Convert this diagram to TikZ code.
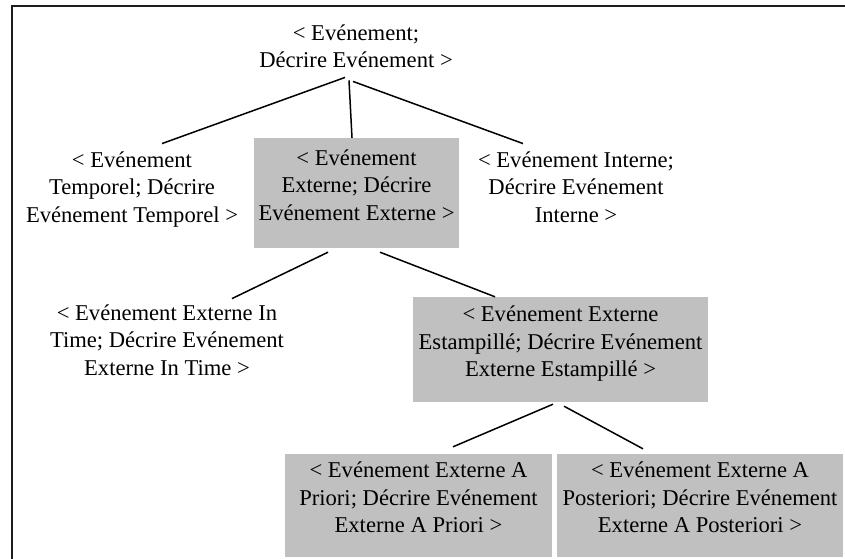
\documentclass[tikz,border=0pt]{standalone}
\usepackage{fontspec}
\setmainfont{Liberation Serif}
\usepackage{tikz}
\usetikzlibrary{positioning,calc}
\definecolor{boxgray}{HTML}{C0C0C0}
\definecolor{framegray}{HTML}{1C1C1C}

\begin{document}
\begin{tikzpicture}[
        x=1pt, y=-1pt,
        txt/.style   = {align=center, inner sep=0pt, font=\fontsize{22.6}{27.5}\selectfont,
                        execute at begin node=\strut, execute at end node=\strut},
        gbox/.style  = {txt, fill=boxgray, execute at end node={\strut\rule[-16pt]{0pt}{16pt}}},
        link/.style  = {line width=1.5pt},
        frame/.style = {line width=1.8pt, draw=framegray}
    ]
        \useasboundingbox (0,0) rectangle (845,558);
        \draw[frame] (12,560) -- (12,6) -- (847,6);

        \node[txt]  (evt)  at (356,50.25)   {< Evénement;\\Décrire Evénement >};
        \node[txt]  (tmp)  at (132,191)     {< Evénement\\Temporel; Décrire\\Evénement Temporel >};
        \node[gbox, minimum width=205pt, minimum height=110pt] (ext) at (356.5,193)
                                            {< Evénement\\Externe; Décrire\\Evénement Externe >};
        \node[txt]  (int)  at (576,191)     {< Evénement Interne;\\Décrire Evénement\\Interne >};
        \node[txt]  (intm) at (167,344)     {< Evénement Externe In\\Time; Décrire Evénement\\Externe In Time >};
        \node[gbox, minimum width=295pt, minimum height=105pt] (est) at (560.5,349.5)
                                            {< Evénement Externe\\Estampillé; Décrire Evénement\\Externe Estampillé >};
        \node[gbox, minimum width=267pt, minimum height=103pt] (pri) at (418.5,505.5)
                                            {< Evénement Externe A\\Priori; Décrire Evénement\\Externe A Priori >};
        \node[gbox, minimum width=286pt, minimum height=103pt] (post) at (700,505.5)
                                            {< Evénement Externe A\\Posteriori; Décrire Evénement\\Externe A Posteriori >};

        \draw[link] ($(evt.south)+(-11,1.25)$) -- ($(tmp.north)+(30,-7.75)$);
        \draw[link] ($(evt.south)+(-7,4.25)$)  -- ($(ext.north)+(-4.5,0)$);
        \draw[link] ($(evt.south)+(-3,5.25)$)  -- ($(int.north)+(-53,-7.75)$);
        \draw[link] ($(ext.south)+(-28.5,4)$)  -- ($(intm.north)+(65,-5.75)$);
        \draw[link] ($(ext.south)+(23.5,4)$)   -- ($(est.north)+(-65.5,0)$);
        \draw[link] ($(est.south)+(-7.5,2)$)   -- ($(pri.north)+(34.5,-7)$);
        \draw[link] ($(est.south)+(3.5,4)$)    -- ($(post.north)+(-57,-5)$);
    \end{tikzpicture}
\end{document}
